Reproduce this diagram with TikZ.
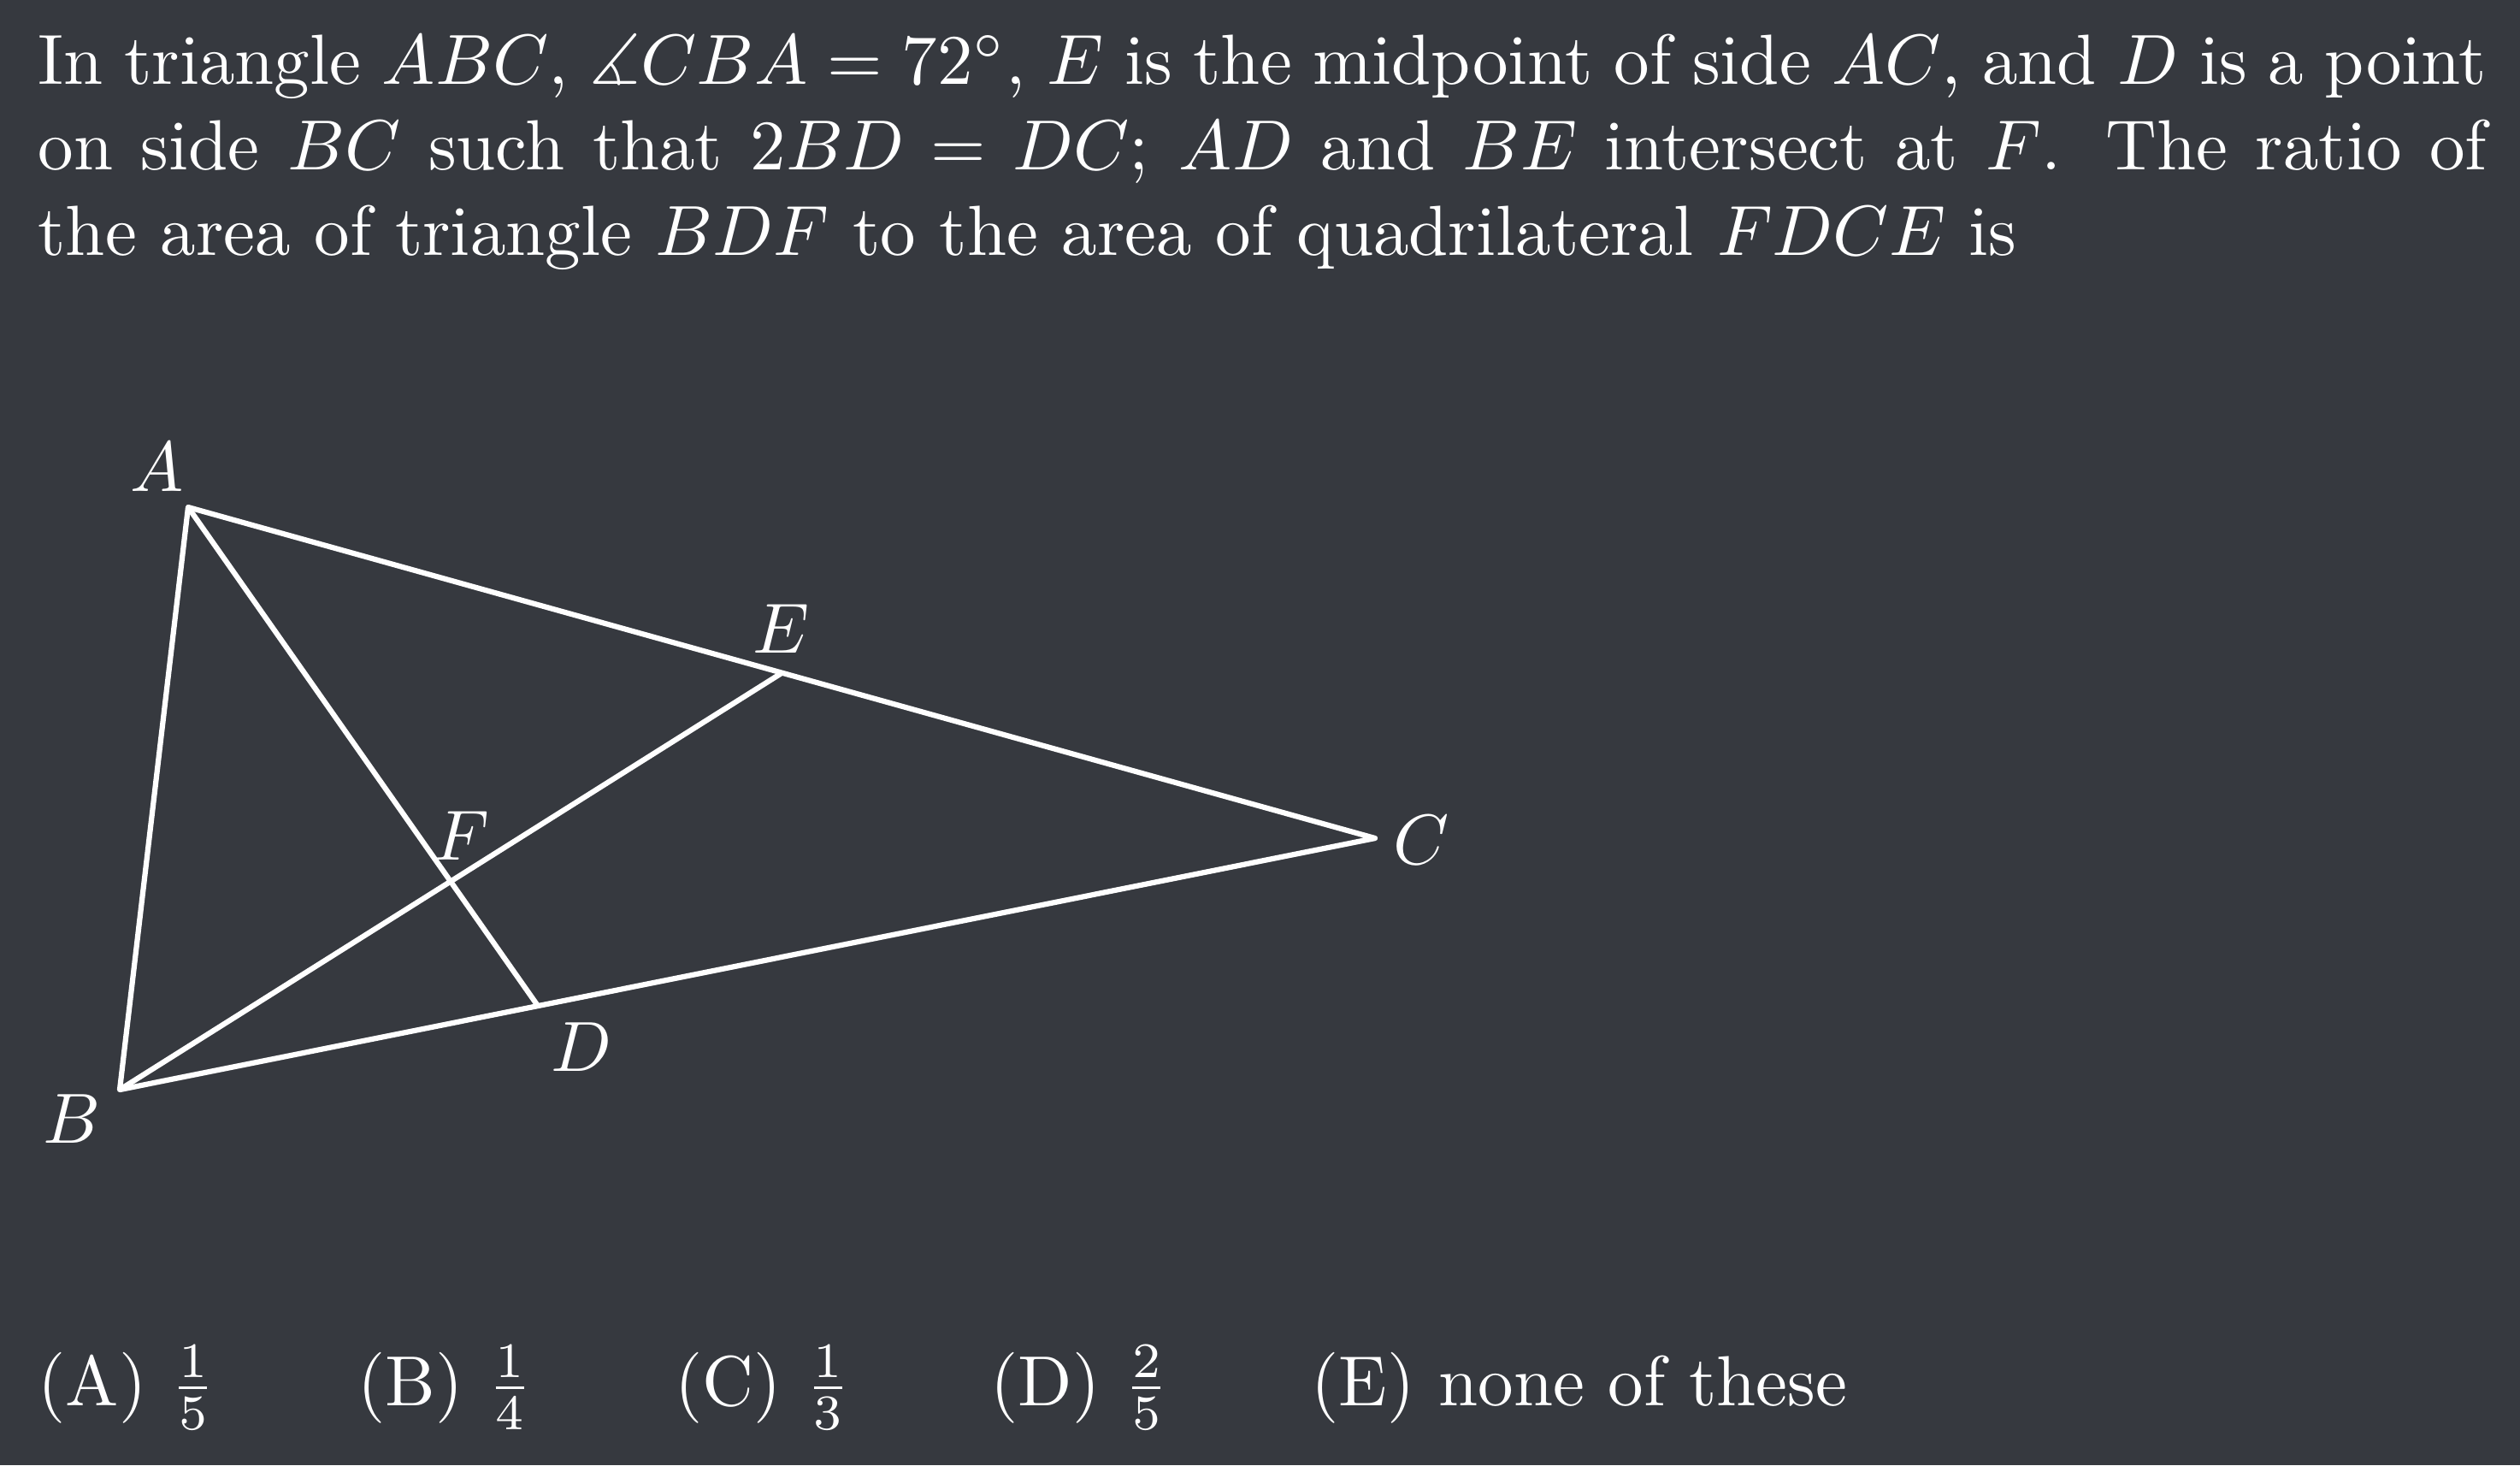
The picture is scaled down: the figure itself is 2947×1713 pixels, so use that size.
\documentclass[tikz,border=0pt]{standalone}
\usepackage{amsmath,amssymb}
\definecolor{bgc}{HTML}{36393F}
\begin{document}
\begin{tikzpicture}[x=0.120482pt,y=-0.120482pt,
  seg/.style={draw=white,line width=0.75pt,line join=round},
  lbl/.style={text=white,inner sep=0pt},
  choice/.style={text=white,inner sep=0pt,anchor=base west}]
\fill[bgc] (0,0) rectangle (2947,1713);
\useasboundingbox (0,0) rectangle (2947,1713);
% problem text
\node[lbl,anchor=north west,text width=345pt,align=justify] (q) at (43,27.45)
{\strut In triangle $ABC$, $\measuredangle CBA=72^\circ$, $E$ is the midpoint of side $AC$, and $D$ is a point on side $BC$ such that $2BD=DC$; $AD$ and $BE$ intersect at $F$. The ratio of\linebreak the area of triangle $BDF$ to the area of quadrilateral $FDCE$ is};
% points
\coordinate (A) at (220,593);
\coordinate (B) at (140,1274);
\coordinate (C) at (1608,980);
\coordinate (D) at (629,1176);
\coordinate (E) at (914,787);
\coordinate (F) at (527,1031);
\draw[seg] (A) -- (B) -- (C) -- cycle;
\draw[seg] (A) -- (D);
\draw[seg] (B) -- (E);
% labels
\node[lbl] (lA) at (184,546) {$A$};
\node[lbl] (lB) at (84,1308) {$B$};
\node[lbl] (lC) at (1662,982) {$C$};
\node[lbl] (lD) at (680,1224) {$D$};
\node[lbl] (lE) at (914,735) {$E$};
\node[lbl] (lF) at (540,977) {$F$};
% choices
\node[choice] (cA) at (43,1643) {(A) $\frac{1}{5}$};
\node[choice] (cB) at (417,1643) {(B) $\frac{1}{4}$};
\node[choice] (cC) at (788,1643) {(C) $\frac{1}{3}$};
\node[choice] (cD) at (1157,1643) {(D) $\frac{2}{5}$};
\node[choice] (cE) at (1532,1643) {(E) none of these};
\end{tikzpicture}
\end{document}
